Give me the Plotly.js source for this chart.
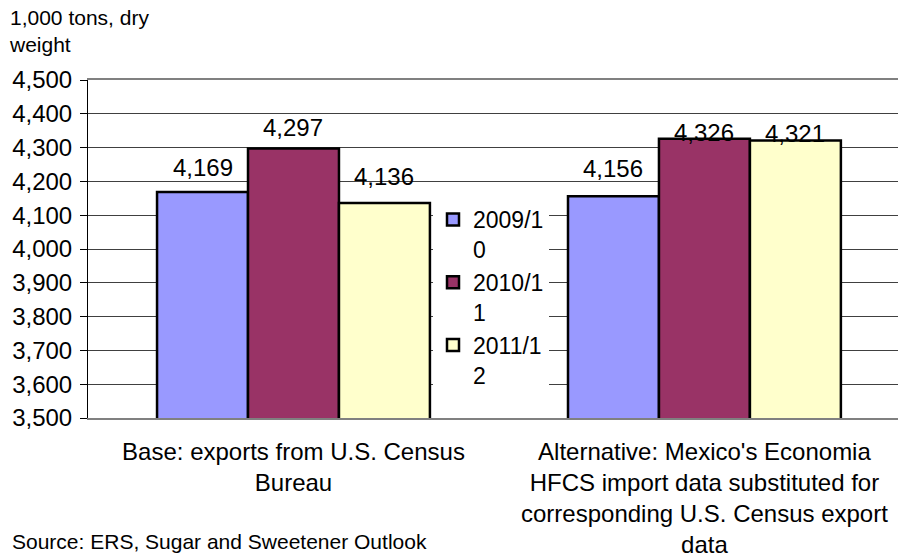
<!DOCTYPE html>
<html>
<head>
<meta charset="utf-8">
<script src="https://cdn.plot.ly/plotly-3.0.1.min.js"></script>
<style>html,body{margin:0;padding:0;background:#fff;}#chart{width:898px;height:559px;}</style>
</head>
<body>
<div id="chart"></div>
<script>
// ---- data ----
const categoryLabels = [
  "Base: exports from U.S. Census<br>Bureau",
  "Alternative: Mexico's Economia<br>HFCS import data substituted for<br>corresponding U.S. Census export<br>data"
];
const seriesNames = ["2009/10", "2010/11", "2011/12"];
const values2009 = [4169, 4156];
const values2010 = [4297, 4326];
const values2011 = [4136, 4321];
const yTickValues = [3500, 3600, 3700, 3800, 3900, 4000, 4100, 4200, 4300, 4400, 4500];

// ---- styles ----
const seriesColors = ["#9999FF", "#993366", "#FFFFCC"];
const labelShift = [[24, 28], [21, 6], [27, 7]]; // px above bar top, per series/category
const FONT = "Liberation Sans, Arial, sans-serif";
const bargap = 0.336;

const allValues = [values2009, values2010, values2011];
const xPos = categoryLabels.map((_, i) => i);
const barW = (1 - bargap) / allValues.length;

const traces = allValues.map((vals, s) => ({
  type: "bar",
  x: xPos,
  y: vals,
  name: seriesNames[s].slice(0, 6) + "<br>" + seriesNames[s].slice(6),
  legendgroup: "g" + s,
  marker: { color: seriesColors[s], line: { color: "#000", width: 2.5 } },
  hoverinfo: "skip"
}));

const annotations = [];
allValues.forEach((vals, s) => {
  vals.forEach((v, i) => {
    annotations.push({
      x: i + (s - (allValues.length - 1) / 2) * barW,
      y: v,
      xref: "x", yref: "y",
      text: v.toLocaleString("en-US"),
      showarrow: false,
      yanchor: "middle",
      yshift: labelShift[s][i],
      font: { family: FONT, size: 24, color: "#000" }
    });
  });
});
annotations.push({
  xref: "paper", yref: "paper",
  x: (10 - 88) / 810, y: (418 - 541) / 338,
  xanchor: "left", yanchor: "middle",
  text: "Source: ERS, Sugar and Sweetener Outlook",
  showarrow: false,
  font: { family: FONT, size: 21, color: "#000" }
});

const xRange = [-0.5, 1.471];
const layout = {
  width: 898, height: 559,
  margin: { l: 88, r: 0, t: 80, b: 141, pad: 0 },
  paper_bgcolor: "#fff", plot_bgcolor: "#fff",
  font: { family: FONT, size: 24, color: "#000" },
  title: {
    text: "1,000 tons, dry<br>weight",
    xref: "container", yref: "container",
    x: 10 / 898, xanchor: "left",
    y: 0.956, yanchor: "top",
    font: { family: FONT, size: 21, color: "#000" }
  },
  barmode: "group",
  bargap: bargap,
  bargroupgap: 0,
  showlegend: true,
  legend: {
    x: (433 - 88) / 810, xanchor: "left",
    y: (418 - 198) / 338, yanchor: "top",
    valign: "top",
    bgcolor: "#fff",
    tracegroupgap: 0,
    font: { family: FONT, size: 23, color: "#000" }
  },
  xaxis: {
    range: xRange,
    tickvals: xPos,
    ticktext: categoryLabels,
    ticks: "",
    ticklabelstandoff: 11,
    showgrid: false,
    zeroline: false,
    showline: true,
    linecolor: "#808080",
    linewidth: 2,
    mirror: true,
    tickfont: { family: FONT, size: 24, color: "#000" },
    fixedrange: true
  },
  xaxis2: {
    overlaying: "x",
    anchor: "y",
    side: "bottom",
    range: xRange,
    tickvals: [-0.5, 0.5, 1.5],
    showticklabels: false,
    ticks: "outside",
    ticklen: 7,
    tickcolor: "#000",
    tickwidth: 1,
    showgrid: false,
    zeroline: false,
    showline: false
  },
  yaxis: {
    range: [3500, 4500],
    tickvals: yTickValues,
    tickformat: ",d",
    ticks: "outside",
    ticklen: 7,
    tickcolor: "#000",
    tickwidth: 1,
    ticklabelstandoff: 3,
    showgrid: true,
    gridcolor: "#404040",
    gridwidth: 1,
    zeroline: false,
    showline: true,
    linecolor: "#000",
    linewidth: 1,
    tickfont: { family: FONT, size: 24, color: "#000" },
    fixedrange: true
  },
  annotations: annotations
};

Plotly.newPlot("chart", traces, layout, { displayModeBar: false, staticPlot: true });
</script>
</body>
</html>
